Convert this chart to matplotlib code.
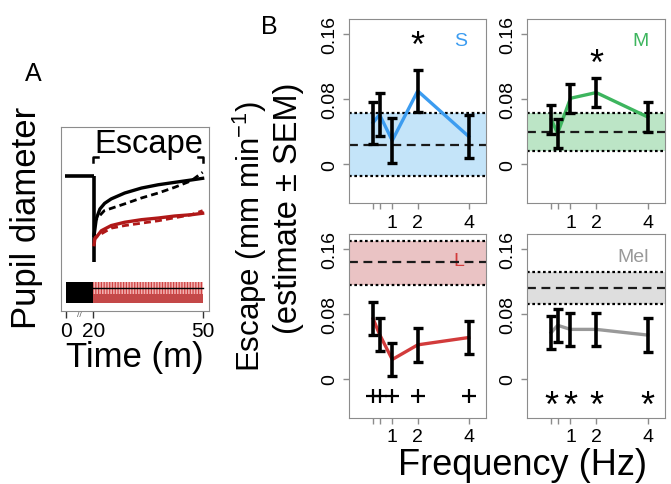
import matplotlib
matplotlib.use("Agg")
import matplotlib.pyplot as plt
from matplotlib.patches import Rectangle

plt.rcParams['font.family'] = ['Liberation Sans', 'DejaVu Sans']
plt.rcParams['mathtext.fontset'] = 'custom'
plt.rcParams['mathtext.rm'] = 'Liberation Sans'
plt.rcParams['hatch.linewidth'] = 0.9

# ---- panel A: pupil trace (time in minutes, broken axis before 20) ----
time_ticks = [12.5, 20, 50]
time_labels = ["0", "20", "50"]
dark_start, dark_end, light_end = 12.5, 20, 50
baseline = 0.731
drop_min = 0.266

black_t = [20.2, 20.8, 21.8, 23.1, 24.9, 28.6, 33.2, 37.8, 42.3, 46.9, 50]
black_y = [0.41, 0.50, 0.554, 0.585, 0.609, 0.641, 0.668, 0.686, 0.699, 0.712, 0.721]
black_dash_t = [20.2, 20.5, 23.0, 28.6, 33.2, 37.8, 42.3, 46.9, 50]
black_dash_y = [0.41, 0.491, 0.545, 0.582, 0.614, 0.641, 0.672, 0.708, 0.754]
red_t = [20.2, 20.4, 22.2, 24.9, 28.6, 33.2, 37.8, 42.3, 46.9, 50]
red_y = [0.36, 0.39, 0.436, 0.464, 0.482, 0.496, 0.505, 0.516, 0.523, 0.531]
red_dash_t = [20.2, 20.5, 24.9, 28.6, 37.8, 46.9, 50]
red_dash_y = [0.38, 0.40, 0.45, 0.464, 0.49, 0.523, 0.545]

# ---- panel B: escape vs frequency ----
freq = [0.25, 0.5, 1, 2, 4]
freq_labels = ["", "", "1", "2", "4"]

s_est = [0.051, 0.061, 0.029, 0.090, 0.034]
s_sem = [0.026, 0.026, 0.028, 0.026, 0.026]
s_band = [-0.0144, 0.0238, 0.0624]   # lower, estimate, upper

m_est = [0.055, 0.038, 0.081, 0.088, 0.058]
m_sem = [0.018, 0.018, 0.018, 0.018, 0.018]
m_band = [0.0164, 0.0398, 0.0624]

l_est = [0.074, 0.055, 0.024, 0.042, 0.051]
l_sem = [0.0205, 0.0205, 0.020, 0.021, 0.0205]
l_band = [0.1157, 0.1436, 0.170]

mel_est = [0.057, 0.066, 0.061, 0.061, 0.054]
mel_sem = [0.020, 0.020, 0.020, 0.020, 0.0205]
mel_band = [0.0923, 0.112, 0.132]

# significance marks: (symbol, x positions, y)
s_sig = ("*", [2], 0.1442)
m_sig = ("*", [2], 0.1225)
l_sig = ("+", freq, -0.0205)
mel_sig = ("*", [0.25, 1, 2, 4], -0.0333)

panels = [
    ("S", s_est, s_sem, s_band, "#3C9CF0", "#C4E4F9", s_sig),
    ("M", m_est, m_sem, m_band, "#3DB55E", "#BCE5C6", m_sig),
    ("L", l_est, l_sem, l_band, "#D23B3B", "#EAC3C4", l_sig),
    ("Mel", mel_est, mel_sem, mel_band, "#999999", "#DEDEDE", mel_sig),
]
label_pos = [(3.7, 0.152), (3.72, 0.152), (3.6, 0.146), (3.45, 0.150)]

grey = "#8C8C8C"
fig = plt.figure(figsize=(6.71, 4.85), dpi=100)

# panel A
axA = fig.add_axes([0.0905, 0.357, 0.221, 0.379])
axA.set_xlim(11.05, 51.75)
axA.set_ylim(0, 1)
axA.plot([12.2, dark_end + 0.2], [baseline, baseline], color="black", lw=2.6, solid_capstyle="butt")
axA.plot([dark_end + 0.2, dark_end + 0.2], [baseline, drop_min], color="black", lw=2.6, solid_capstyle="butt")
axA.plot(black_dash_t, black_dash_y, color="black", lw=2.0, ls=(0, (2.5, 1.5)))
axA.plot(black_t, black_y, color="black", lw=2.4)
axA.plot(red_dash_t, red_dash_y, color="#B01818", lw=2.0, ls=(0, (2.5, 1.5)))
axA.plot(red_t, red_y, color="#B01818", lw=2.4)
# stimulus bar
axA.add_patch(Rectangle((dark_start, 0.042), dark_end - dark_start, 0.114, color="black", lw=0))
axA.add_patch(Rectangle((dark_end, 0.092), light_end - dark_end, 0.064, facecolor="#F2B4B4",
                        edgecolor="#D04444", hatch="||||||", lw=0))
axA.add_patch(Rectangle((dark_end, 0.042), light_end - dark_end, 0.050, color="#C44848", lw=0))
axA.plot([dark_end, light_end], [0.123, 0.123], color="black", lw=1.0)
# escape bracket
axA.plot([dark_end, dark_end, 21.2], [0.81, 0.837, 0.837], color="black", lw=1.8)
axA.plot([48.8, light_end, light_end], [0.837, 0.837, 0.81], color="black", lw=1.8)
axA.text(35.3, 0.862, "Escape", fontsize=23.5, ha="center", va="baseline")
axA.text(16.3, -0.02, "//", fontsize=6, ha="center", va="center", color="#555555")
axA.set_xticks(time_ticks)
axA.set_xticklabels(time_labels)
axA.set_yticks([])
axA.tick_params(axis="x", direction="out", length=5, width=1, color="#333333",
                labelsize=15, pad=2)
for sp in axA.spines.values():
    sp.set_color(grey)
axA.set_xlabel("Time (m)", fontsize=25, labelpad=0)
fig.text(0.039, 0.55, "Pupil diameter", fontsize=25, rotation=90, ha="center", va="center")
fig.text(0.049, 0.847, "A", fontsize=18, ha="center", va="center")

# panel B
rects = [[0.520, 0.579, 0.204, 0.379], [0.785, 0.579, 0.206, 0.379],
         [0.520, 0.136, 0.204, 0.379], [0.785, 0.136, 0.206, 0.379]]
for (name, est, sem, band, col, fill, sig), r, lp in zip(panels, rects, label_pos):
    ax = fig.add_axes(r)
    ax.set_xlim(-0.7, 4.67)
    ax.set_ylim(-0.048, 0.178)
    ax.axhspan(band[0], band[2], color=fill, lw=0, zorder=0)
    ax.axhline(band[0], color="black", lw=1.6, ls=(0, (1.2, 1.2)), zorder=1)
    ax.axhline(band[2], color="black", lw=1.6, ls=(0, (1.2, 1.2)), zorder=1)
    ax.axhline(band[1], color="#1a1a1a", lw=1.6, ls=(0, (4, 2.5)), zorder=1)
    ax.text(lp[0], lp[1], name, color=col, fontsize=14, ha="center", va="center", zorder=0.5)
    ax.plot(freq, est, color=col, lw=2.4, zorder=2)
    ax.errorbar(freq, est, yerr=sem, fmt="none", ecolor="black", elinewidth=2.6,
                capsize=3.3, capthick=2.4, zorder=3)
    sym, sx, sy = sig
    if sym == "+":
        ax.plot(sx, [sy] * len(sx), ls="none", marker="+", ms=9.5, mew=1.6, color="black")
    else:
        for x in sx:
            ax.text(x, sy, sym, fontsize=26, ha="center", va="center")
    ax.set_xticks(freq)
    ax.set_xticklabels(freq_labels)
    ax.set_yticks([0, 0.08, 0.16])
    ax.set_yticklabels(["0", "0.08", "0.16"])
    ax.tick_params(direction="out", length=4.5, width=1, color=grey, labelsize=14)
    ax.tick_params(axis="x", pad=3)
    ax.tick_params(axis="y", pad=3)
    for lab in ax.get_yticklabels():
        lab.set_rotation(90)
        lab.set_va("center")
    for sp in ax.spines.values():
        sp.set_color(grey)

fig.text(0.401, 0.944, "B", fontsize=18, ha="center", va="center")
fig.text(0.3726, 0.512, "Escape (mm min$^{-1}$)", fontsize=22.5, rotation=90, ha="center", va="center")
fig.text(0.4307, 0.570, "(estimate \u00b1 SEM)", fontsize=23.5, rotation=90, ha="center", va="center")
fig.text(0.778, 0.04, "Frequency (Hz)", fontsize=26, ha="center", va="center")

fig.savefig("out.png", dpi=100)
